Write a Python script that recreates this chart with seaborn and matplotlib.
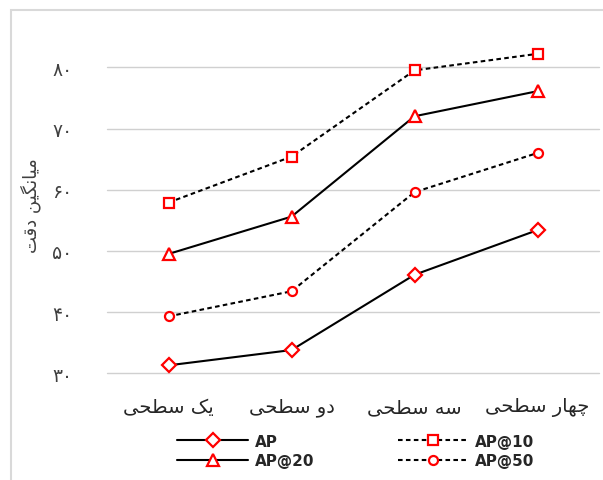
import matplotlib
matplotlib.use("Agg")
import matplotlib.pyplot as plt
from matplotlib.patches import Rectangle
from matplotlib.ticker import FuncFormatter
import numpy as np
import pandas as pd
import seaborn as sns

# --- data -------------------------------------------------------------
categories = ["یک سطحی", "دو سطحی", "سه سطحی", "چهار سطحی"]
ap = [31.3, 33.8, 46.1, 53.4]
ap_at_10 = [57.9, 65.4, 79.5, 82.2]
ap_at_20 = [49.5, 55.6, 72.0, 76.1]
ap_at_50 = [39.3, 43.4, 59.6, 66.0]
y_ticks = [30, 40, 50, 60, 70, 80]
y_label = "میانگین دقت"

# --- minimal Persian shaping (contextual forms + right-to-left order) --
FORMS = {
    "ا": ("\uFE8D", "\uFE8E", None, None),
    "د": ("\uFEA9", "\uFEAA", None, None),
    "ر": ("\uFEAD", "\uFEAE", None, None),
    "و": ("\uFEED", "\uFEEE", None, None),
    "ت": ("\uFE95", "\uFE96", "\uFE97", "\uFE98"),
    "ح": ("\uFEA1", "\uFEA2", "\uFEA3", "\uFEA4"),
    "س": ("\uFEB1", "\uFEB2", "\uFEB3", "\uFEB4"),
    "ط": ("\uFEC1", "\uFEC2", "\uFEC3", "\uFEC4"),
    "ق": ("\uFED5", "\uFED6", "\uFED7", "\uFED8"),
    "م": ("\uFEE1", "\uFEE2", "\uFEE3", "\uFEE4"),
    "ن": ("\uFEE5", "\uFEE6", "\uFEE7", "\uFEE8"),
    "ه": ("\uFEE9", "\uFEEA", "\uFEEB", "\uFEEC"),
    "چ": ("\uFB7A", "\uFB7B", "\uFB7C", "\uFB7D"),
    "ک": ("\uFB8E", "\uFB8F", "\uFB90", "\uFB91"),
    "گ": ("\uFB92", "\uFB93", "\uFB94", "\uFB95"),
    "ی": ("\uFBFC", "\uFBFD", "\uFBFE", "\uFBFF"),
}


def shape(text):
    out = []
    for i, ch in enumerate(text):
        if ch not in FORMS:
            out.append(ch)
            continue
        prev = text[i - 1] if i > 0 else None
        nxt = text[i + 1] if i < len(text) - 1 else None
        joins_prev = prev in FORMS and FORMS[prev][2] is not None
        joins_next = FORMS[ch][2] is not None and nxt in FORMS
        iso, fin, ini, med = FORMS[ch]
        if joins_prev and joins_next:
            out.append(med)
        elif joins_prev:
            out.append(fin)
        elif joins_next:
            out.append(ini)
        else:
            out.append(iso)
    return "".join(reversed(out))


def persian_digits(v, _pos=None):
    return str(int(round(v))).translate(str.maketrans("0123456789", "۰۱۲۳۴۵۶۷۸۹"))


# --- figure -----------------------------------------------------------
sns.set_theme(style="white")
plt.rcParams["font.family"] = ["DejaVu Sans"]

W, H = 603, 481
fig = plt.figure(figsize=(W / 100, H / 100), dpi=100)
ax = fig.add_axes([107 / W, 1 - 374.3 / H, 492 / W, 336.6 / H])

series = [
    ("AP", ap, "-", "D", 7.5),
    ("AP@10", ap_at_10, (0, (2.2, 1.6)), "s", 6.5),
    ("AP@20", ap_at_20, "-", "^", 8.5),
    ("AP@50", ap_at_50, (0, (2.2, 1.6)), "o", 6.5),
]

for name, values, ls, marker, ms in series:
    df = pd.DataFrame({"level": categories, "value": values})
    sns.lineplot(
        data=df, x="level", y="value", ax=ax, sort=False,
        color="black", linewidth=1.5, linestyle=ls,
        marker=marker, markersize=ms, markeredgecolor="#ff0000",
        markerfacecolor="white", markeredgewidth=1.6, label=name,
    )

ax.set_xlim(-0.5, len(categories) - 0.5)
ax.set_ylim(30, 85)
ax.set_yticks(y_ticks)
ax.yaxis.set_major_formatter(FuncFormatter(persian_digits))
ax.set_xticks(range(len(categories)))
ax.set_xticklabels([shape(c) for c in categories], fontsize=14, color="#262626")
ax.tick_params(axis="x", length=0, pad=17)
ax.tick_params(axis="y", length=0, pad=25, labelsize=13.5, labelcolor="#404040")
ax.grid(axis="y", color="#d0d0d0", linewidth=1.0)
ax.grid(axis="x", visible=False)
for gl in ax.get_ygridlines():
    gl.set_clip_on(False)
for sp in ax.spines.values():
    sp.set_visible(False)
ax.set_xlabel("")
ax.set_ylabel(shape(y_label), fontsize=13, color="#404040")
ax.yaxis.set_label_coords(-(107 - 41) / 492, (374.3 - 206) / 336.6)

handles, labels = ax.get_legend_handles_labels()
lookup = dict(zip(labels, handles))
order = ["AP", "AP@20", "AP@10", "AP@50"]
ax.get_legend().remove()
fig.legend(
    [lookup[k] for k in order], order, ncol=2, loc="center",
    bbox_to_anchor=(356 / W, 1 - 452 / H), frameon=False,
    prop={"weight": "bold", "size": 11}, handlelength=4.6,
    handletextpad=0.45, columnspacing=5.5, labelspacing=0.3,
)

# light chart-area border
fig.add_artist(Rectangle((10.5 / W, -0.1), 1.2, 1.1 - 10.5 / H,
                         transform=fig.transFigure, fill=False,
                         edgecolor="#d9d9d9", linewidth=1.5))

fig.savefig("out.png", dpi=100)
